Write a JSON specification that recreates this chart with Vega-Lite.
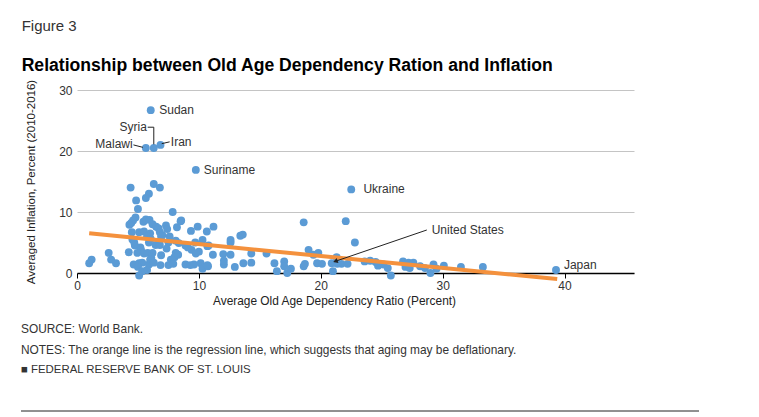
{
  "$schema": "https://vega.github.io/schema/vega-lite/v6.json",
  "padding": {"left": 20, "top": 19, "right": 0, "bottom": 0},
  "background": "white",
  "bounds": "flush",
  "spacing": 56,
  "config": {
    "view": {"stroke": null},
    "font": "Liberation Sans"
  },
  "datasets": {
    "points": [
      {"ratio": 6.05, "inflation": 26.7, "country": "Sudan"},
      {"ratio": 6.3, "inflation": 20.5, "country": "Syria"},
      {"ratio": 5.65, "inflation": 20.5, "country": "Malawi"},
      {"ratio": 6.85, "inflation": 21.0, "country": "Iran"},
      {"ratio": 9.75, "inflation": 16.9, "country": "Suriname"},
      {"ratio": 22.5, "inflation": 13.7, "country": "Ukraine"},
      {"ratio": 20.9, "inflation": 1.6, "country": "United States"},
      {"ratio": 39.3, "inflation": 0.5, "country": "Japan"},
      {"ratio": 1.0, "inflation": 1.6}, {"ratio": 1.2, "inflation": 2.2}, {"ratio": 2.6, "inflation": 3.3},
      {"ratio": 2.8, "inflation": 2.2}, {"ratio": 3.2, "inflation": 1.6},
      {"ratio": 4.4, "inflation": 14.0}, {"ratio": 6.3, "inflation": 14.6}, {"ratio": 6.8, "inflation": 14.0},
      {"ratio": 5.9, "inflation": 13.0}, {"ratio": 5.65, "inflation": 12.3}, {"ratio": 4.85, "inflation": 11.9},
      {"ratio": 5.0, "inflation": 10.5}, {"ratio": 7.85, "inflation": 10.0}, {"ratio": 4.8, "inflation": 9.1},
      {"ratio": 4.6, "inflation": 8.6}, {"ratio": 4.45, "inflation": 8.2}, {"ratio": 4.3, "inflation": 7.9},
      {"ratio": 5.45, "inflation": 8.4}, {"ratio": 5.65, "inflation": 8.8}, {"ratio": 5.95, "inflation": 8.7},
      {"ratio": 6.2, "inflation": 8.0}, {"ratio": 6.5, "inflation": 7.6}, {"ratio": 6.7, "inflation": 7.3},
      {"ratio": 7.3, "inflation": 7.8}, {"ratio": 7.4, "inflation": 7.2}, {"ratio": 8.2, "inflation": 7.5},
      {"ratio": 8.55, "inflation": 8.6}, {"ratio": 9.35, "inflation": 6.9}, {"ratio": 9.9, "inflation": 7.6},
      {"ratio": 10.65, "inflation": 6.8}, {"ratio": 11.2, "inflation": 7.6}, {"ratio": 13.4, "inflation": 6.1},
      {"ratio": 13.6, "inflation": 6.3}, {"ratio": 8.5, "inflation": 8.5},
      {"ratio": 4.5, "inflation": 6.7}, {"ratio": 5.1, "inflation": 6.7}, {"ratio": 5.5, "inflation": 6.8},
      {"ratio": 6.0, "inflation": 6.5}, {"ratio": 6.8, "inflation": 6.7}, {"ratio": 7.0, "inflation": 6.2},
      {"ratio": 7.6, "inflation": 6.0}, {"ratio": 5.75, "inflation": 6.0}, {"ratio": 6.9, "inflation": 6.0},
      {"ratio": 4.55, "inflation": 5.5}, {"ratio": 4.7, "inflation": 5.0}, {"ratio": 4.75, "inflation": 4.5},
      {"ratio": 5.2, "inflation": 4.2}, {"ratio": 5.25, "inflation": 3.8}, {"ratio": 6.05, "inflation": 5.6},
      {"ratio": 5.9, "inflation": 5.0}, {"ratio": 6.45, "inflation": 4.6}, {"ratio": 6.8, "inflation": 4.6},
      {"ratio": 7.5, "inflation": 5.0}, {"ratio": 7.35, "inflation": 4.0}, {"ratio": 8.35, "inflation": 4.9},
      {"ratio": 8.9, "inflation": 4.5}, {"ratio": 9.4, "inflation": 3.8}, {"ratio": 9.1, "inflation": 4.2},
      {"ratio": 10.0, "inflation": 3.5}, {"ratio": 9.75, "inflation": 3.2}, {"ratio": 10.7, "inflation": 4.4},
      {"ratio": 10.3, "inflation": 5.4}, {"ratio": 9.7, "inflation": 5.0}, {"ratio": 8.1, "inflation": 5.3},
      {"ratio": 4.25, "inflation": 3.4}, {"ratio": 4.95, "inflation": 3.3}, {"ratio": 5.5, "inflation": 3.2},
      {"ratio": 5.8, "inflation": 3.3}, {"ratio": 6.2, "inflation": 3.3}, {"ratio": 6.1, "inflation": 2.5},
      {"ratio": 6.9, "inflation": 2.9}, {"ratio": 7.7, "inflation": 2.2}, {"ratio": 8.1, "inflation": 3.3},
      {"ratio": 8.0, "inflation": 2.6}, {"ratio": 8.3, "inflation": 3.0},
      {"ratio": 4.65, "inflation": 1.4}, {"ratio": 5.1, "inflation": 1.6}, {"ratio": 5.35, "inflation": 1.7},
      {"ratio": 5.9, "inflation": 1.4}, {"ratio": 5.0, "inflation": 1.0}, {"ratio": 5.35, "inflation": 0.3},
      {"ratio": 5.75, "inflation": 0.5}, {"ratio": 5.1, "inflation": -0.4}, {"ratio": 6.0, "inflation": 2.2},
      {"ratio": 6.3, "inflation": 1.7}, {"ratio": 6.85, "inflation": 1.3}, {"ratio": 7.5, "inflation": 1.3},
      {"ratio": 7.9, "inflation": 1.5}, {"ratio": 8.9, "inflation": 1.4}, {"ratio": 9.3, "inflation": 1.3},
      {"ratio": 9.6, "inflation": 1.4}, {"ratio": 10.15, "inflation": 1.6}, {"ratio": 10.3, "inflation": 0.7},
      {"ratio": 10.75, "inflation": 1.1}, {"ratio": 10.7, "inflation": 1.3},
      {"ratio": 11.15, "inflation": 3.0}, {"ratio": 10.8, "inflation": 4.5}, {"ratio": 12.0, "inflation": 3.1},
      {"ratio": 12.05, "inflation": 1.4}, {"ratio": 12.05, "inflation": 2.0}, {"ratio": 12.6, "inflation": 3.0},
      {"ratio": 12.6, "inflation": 5.4}, {"ratio": 12.6, "inflation": 5.0}, {"ratio": 12.95, "inflation": 1.0},
      {"ratio": 13.65, "inflation": 1.6}, {"ratio": 14.3, "inflation": 1.7}, {"ratio": 14.3, "inflation": 3.2},
      {"ratio": 15.55, "inflation": 3.2}, {"ratio": 16.2, "inflation": 1.6}, {"ratio": 16.4, "inflation": 0.3},
      {"ratio": 17.0, "inflation": 1.9}, {"ratio": 17.0, "inflation": 1.1}, {"ratio": 17.25, "inflation": 0.0},
      {"ratio": 17.55, "inflation": 0.7},
      {"ratio": 18.6, "inflation": 8.3}, {"ratio": 18.6, "inflation": 1.1}, {"ratio": 18.7, "inflation": 1.5},
      {"ratio": 19.0, "inflation": 3.8}, {"ratio": 19.4, "inflation": 3.0}, {"ratio": 19.8, "inflation": 3.3},
      {"ratio": 19.7, "inflation": 1.6}, {"ratio": 20.1, "inflation": 1.5}, {"ratio": 21.0, "inflation": 0.3},
      {"ratio": 21.3, "inflation": 2.6}, {"ratio": 21.35, "inflation": 1.5}, {"ratio": 21.7, "inflation": 1.5},
      {"ratio": 22.05, "inflation": 8.5}, {"ratio": 22.2, "inflation": 1.5}, {"ratio": 22.8, "inflation": 5.0},
      {"ratio": 23.6, "inflation": 1.9}, {"ratio": 24.05, "inflation": 2.0}, {"ratio": 24.5, "inflation": 1.8},
      {"ratio": 24.7, "inflation": 1.2}, {"ratio": 25.15, "inflation": 1.4}, {"ratio": 25.5, "inflation": 0.8},
      {"ratio": 25.75, "inflation": -0.4}, {"ratio": 26.75, "inflation": 1.9}, {"ratio": 26.95, "inflation": 1.0},
      {"ratio": 27.2, "inflation": 1.7}, {"ratio": 27.6, "inflation": 1.7}, {"ratio": 27.3, "inflation": 0.8},
      {"ratio": 28.15, "inflation": 1.1}, {"ratio": 28.55, "inflation": 0.8}, {"ratio": 29.0, "inflation": 0.0},
      {"ratio": 29.25, "inflation": 1.4}, {"ratio": 29.5, "inflation": 0.7}, {"ratio": 30.1, "inflation": 1.2},
      {"ratio": 31.5, "inflation": 1.0}, {"ratio": 33.3, "inflation": 1.0}
    ],
    "fit": [
      {"ratio": 1.0, "inflation": 6.5},
      {"ratio": 39.4, "inflation": -1.0}
    ],
    "labels": [
      {"label": "Sudan", "ratio": 6.75, "inflation": 26.7, "side": "left"},
      {"label": "Suriname", "ratio": 10.4, "inflation": 16.9, "side": "left"},
      {"label": "Ukraine", "ratio": 23.5, "inflation": 13.7, "side": "left"},
      {"label": "Japan", "ratio": 39.95, "inflation": 1.3, "side": "left"},
      {"label": "Iran", "ratio": 7.7, "inflation": 21.4, "side": "left"},
      {"label": "United States", "ratio": 29.1, "inflation": 7.05, "side": "left"},
      {"label": "Syria", "ratio": 5.74, "inflation": 23.9, "side": "right"},
      {"label": "Malawi", "ratio": 4.57, "inflation": 21.1, "side": "right"}
    ],
    "leaders": [
      {"ratio": 4.63, "inflation": 21.0, "ratio2": 5.4, "inflation2": 20.6},
      {"ratio": 5.8, "inflation": 23.9, "ratio2": 6.3, "inflation2": 23.9},
      {"ratio": 6.3, "inflation": 23.9, "ratio2": 6.3, "inflation2": 21.1},
      {"ratio": 6.95, "inflation": 21.2, "ratio2": 7.6, "inflation2": 21.5},
      {"ratio": 28.7, "inflation": 7.05, "ratio2": 21.1, "inflation2": 1.85}
    ],
    "arrowhead": [
      {"ratio": 21.2, "inflation": 1.92}
    ],
    "notes": [
      {"line": 1, "text": "SOURCE: World Bank."},
      {"line": 2, "text": "NOTES: The orange line is the regression line, which suggests that aging may be deflationary."},
      {"line": 3, "text": "■  FEDERAL RESERVE BANK OF ST. LOUIS"}
    ]
  },
  "vconcat": [
    {
      "width": 557,
      "height": 183,
      "title": {
        "text": "Figure 3",
        "subtitle": "Relationship between Old Age Dependency Ration and Inflation",
        "anchor": "start",
        "dx": -4,
        "fontSize": 15,
        "fontWeight": "normal",
        "color": "#333333",
        "subtitleFontSize": 17.6,
        "subtitleFontWeight": "bold",
        "subtitleColor": "#000000",
        "subtitlePadding": 23,
        "offset": 3
      },
      "layer": [
        {
          "data": {"name": "points"},
          "mark": {"type": "circle", "size": 62, "opacity": 1, "color": "#5b9bd5"},
          "encoding": {
            "x": {
              "field": "ratio", "type": "quantitative",
              "scale": {"domain": [0, 45.7], "nice": false, "zero": false},
              "axis": {
                "title": "Average Old Age Dependency Ratio (Percent)",
                "values": [0, 10, 20, 30, 40],
                "grid": false,
                "labelFlush": false,
                "domainColor": "#000000", "domainWidth": 1.5,
                "tickColor": "#000000", "tickSize": 5, "tickWidth": 1,
                "labelFontSize": 12, "labelColor": "#333333", "labelPadding": 2,
                "titleFontSize": 11.9, "titleFontWeight": "normal", "titleColor": "#222222",
                "titlePadding": 4, "titleX": 257, "titleAlign": "center"
              }
            },
            "y": {
              "field": "inflation", "type": "quantitative",
              "scale": {"domain": [0, 30], "nice": false, "zero": false},
              "axis": {
                "title": "Averaged Inflation, Percent  (2010-2016)",
                "values": [0, 10, 20, 30],
                "domain": false, "ticks": false, "tickSize": 0,
                "gridColor": "#c4c4c4", "gridWidth": 1,
                "labelFontSize": 12, "labelColor": "#333333", "labelPadding": 5,
                "titleFontSize": 11.5, "titleFontWeight": "normal", "titleColor": "#222222",
                "titlePadding": 22
              }
            }
          }
        },
        {
          "data": {"name": "fit"},
          "mark": {"type": "line", "color": "#f4913d", "strokeWidth": 4},
          "encoding": {
            "x": {"field": "ratio", "type": "quantitative"},
            "y": {"field": "inflation", "type": "quantitative"}
          }
        },
        {
          "data": {"name": "leaders"},
          "mark": {"type": "rule", "color": "#222222", "strokeWidth": 1},
          "encoding": {
            "x": {"field": "ratio", "type": "quantitative"},
            "y": {"field": "inflation", "type": "quantitative"},
            "x2": {"field": "ratio2"},
            "y2": {"field": "inflation2"}
          }
        },
        {
          "data": {"name": "arrowhead"},
          "mark": {"type": "point", "shape": "triangle-up", "filled": true, "color": "#222222", "size": 28, "angle": 251, "opacity": 1},
          "encoding": {
            "x": {"field": "ratio", "type": "quantitative"},
            "y": {"field": "inflation", "type": "quantitative"}
          }
        },
        {
          "data": {"name": "labels"},
          "transform": [{"filter": "datum.side === 'left'"}],
          "mark": {"type": "text", "align": "left", "baseline": "middle", "fontSize": 12, "color": "#333333"},
          "encoding": {
            "x": {"field": "ratio", "type": "quantitative"},
            "y": {"field": "inflation", "type": "quantitative"},
            "text": {"field": "label"}
          }
        },
        {
          "data": {"name": "labels"},
          "transform": [{"filter": "datum.side === 'right'"}],
          "mark": {"type": "text", "align": "right", "baseline": "middle", "fontSize": 12, "color": "#333333"},
          "encoding": {
            "x": {"field": "ratio", "type": "quantitative"},
            "y": {"field": "inflation", "type": "quantitative"},
            "text": {"field": "label"}
          }
        }
      ]
    },
    {
      "width": 622,
      "height": 82,
      "layer": [
        {
          "data": {"name": "notes"},
          "mark": {"type": "text", "align": "left", "baseline": "middle", "color": "#333333"},
          "encoding": {
            "y": {"field": "line", "type": "ordinal", "scale": {"type": "point", "padding": 0, "domain": [1, 2, 3, 4, 5]}, "axis": null},
            "x": {"datum": -56, "type": "quantitative", "scale": {"domain": [0, 622], "nice": false, "zero": false}, "axis": null},
            "text": {"field": "text"},
            "size": {"condition": {"test": "datum.line === 3", "value": 11.4}, "value": 11.9}
          }
        },
        {
          "data": {"values": [{}]},
          "mark": {"type": "rule", "color": "#222222", "strokeWidth": 1},
          "encoding": {
            "y": {"datum": 5, "type": "ordinal"},
            "x": {"datum": -56, "type": "quantitative"},
            "x2": {"datum": 622}
          }
        }
      ]
    }
  ]
}
